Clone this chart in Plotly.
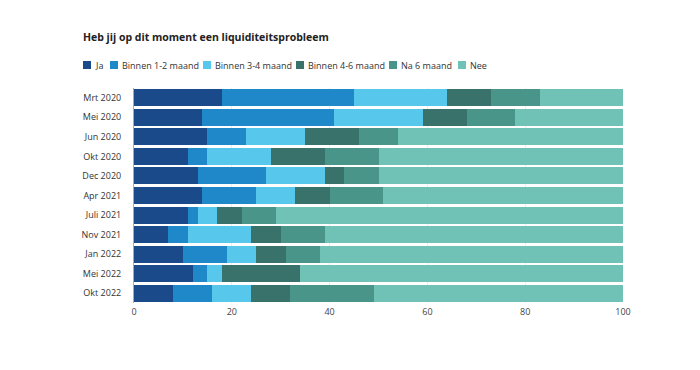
import plotly.graph_objects as go

categories = ["Mrt 2020", "Mei 2020", "Jun 2020", "Okt 2020", "Dec 2020", "Apr 2021",
              "Juli 2021", "Nov 2021", "Jan 2022", "Mei 2022", "Okt 2022"]
series_names = ["Ja", "Binnen 1-2 maand", "Binnen 3-4 maand", "Binnen 4-6 maand", "Na 6 maand", "Nee"]
ja =        [18, 14, 15, 11, 13, 14, 11, 7, 10, 12, 8]
binnen_12 = [27, 27, 8, 4, 14, 11, 2, 4, 9, 3, 8]
binnen_34 = [19, 18, 12, 13, 12, 8, 4, 13, 6, 3, 8]
binnen_46 = [9, 9, 11, 11, 4, 7, 5, 6, 6, 16, 8]
na_6 =      [10, 10, 8, 11, 7, 11, 7, 9, 7, 0, 17]
nee =       [17, 22, 46, 50, 50, 49, 71, 61, 62, 66, 51]
colors = ["#1a4a8a", "#1f88c9", "#57c8ec", "#39726b", "#4a958a", "#6fc2b5"]
x_ticks = [0, 20, 40, 60, 80, 100]

values = [ja, binnen_12, binnen_34, binnen_46, na_6, nee]

W, H = 700, 370
L, R, T, B = 126, 85, 80, 75
PW = W - L - R
PH = H - T - B

fig = go.Figure()
for name, vals, col in zip(series_names, values, colors):
    fig.add_trace(go.Bar(
        y=categories, x=vals, name=name, orientation="h",
        marker=dict(color=col, line=dict(width=0)),
        showlegend=False,
    ))

font_family = "Open Sans, Noto Sans, sans-serif"

# compact legend row, like the reference (positions in px from figure left)
legend_text_left = [87, 114, 207, 300, 393, 462]
legend_y = 57
sq = 8
shapes = []
annotations = []
for i, (name, col) in enumerate(zip(series_names, colors)):
    tx = legend_text_left[i]
    x0 = tx - sq - 4
    shapes.append(dict(type="rect", xref="paper", yref="paper",
                       x0=(x0 - L) / PW, x1=(x0 + sq - L) / PW,
                       y0=(H - B - (legend_y + sq / 2)) / PH, y1=(H - B - (legend_y - sq / 2)) / PH,
                       fillcolor=col, line=dict(width=0)))
    annotations.append(dict(text=name, xref="paper", yref="paper",
                            x=(tx - 2 - L) / PW, y=(H - B - legend_y) / PH,
                            xanchor="left", yanchor="middle", showarrow=False,
                            font=dict(size=9, color="#333333", family=font_family)))

fig.update_layout(
    barmode="stack",
    bargap=0.13,
    width=W, height=H,
    margin=dict(l=L, r=R, t=T, b=B, autoexpand=False),
    paper_bgcolor="white", plot_bgcolor="white",
    font=dict(family=font_family, size=9, color="#333333"),
    title=dict(text="<b>Heb jij op dit moment een liquiditeitsprobleem</b>",
               x=75 / W, xanchor="left", y=1 - 29 / H, yanchor="middle",
               xref="container", yref="container",
               font=dict(size=10.5, color="#222222", family=font_family)),
    shapes=shapes,
    annotations=annotations,
    showlegend=False,
)
fig.update_xaxes(range=[0, 100], tickvals=x_ticks, showgrid=True, gridcolor="#eeeeee",
                 zeroline=False, showline=False, ticks="", automargin=False,
                 ticklabelstandoff=2,
                 tickfont=dict(size=9, color="#444444"))
fig.update_yaxes(autorange="reversed", showgrid=False, showline=True, linecolor="#aaaaaa",
                 linewidth=1, ticks="", automargin=False, ticklabelstandoff=10,
                 tickfont=dict(size=9, color="#333333"))

fig.write_html("out.html")
